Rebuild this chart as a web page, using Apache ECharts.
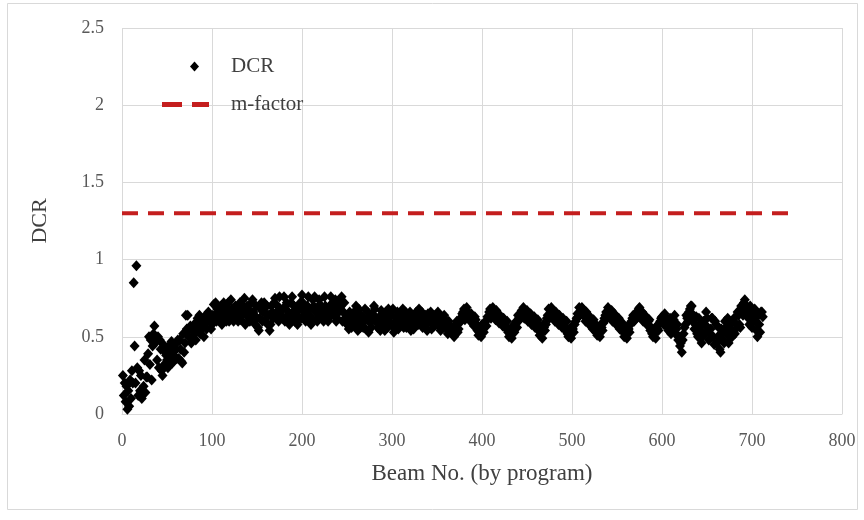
<!DOCTYPE html>
<html>
<head>
<meta charset="utf-8">
<script src="https://cdn.jsdelivr.net/npm/echarts@6/dist/echarts.min.js"></script>
<style>html,body{margin:0;padding:0;background:#fff}#c{width:864px;height:520px}</style>
</head>
<body>
<div id="c"></div>
<script>
const xTicks = [0, 100, 200, 300, 400, 500, 600, 700, 800];
const yTicks = [0, 0.5, 1, 1.5, 2, 2.5];
const mFactor = 1.3;
const mFactorRange = [0, 750];
// [beam number, DCR] - first set
const dcrPointsA = [
[1,0.25],[2,0.12],[3,0.20],[4,0.08],[5,0.18],[6,0.03],[7,0.15],[8,0.05],[9,0.22],[10,0.10],
[11,0.28],[12,0.20],[13,0.85],[14,0.44],[15,0.20],[16,0.96],[17,0.30],[18,0.12],[19,0.28],[20,0.15],
[21,0.25],[22,0.10],[23,0.13],[24,0.18],[25,0.35],[26,0.14],[27,0.24],[28,0.24],[29,0.39],[30,0.50],
[31,0.32],[32,0.48],[33,0.22],[34,0.44],[35,0.52],[36,0.57],[37,0.46],[38,0.48],[39,0.35],[40,0.50],
[41,0.30],[42,0.48],[43,0.42],[44,0.28],[45,0.25],[46,0.45],[47,0.32],[48,0.40],[50,0.35],[52,0.44],
[53,0.43],[54,0.38],[55,0.47],[56,0.33],[58,0.35],[60,0.42],[62,0.48],[63,0.36],[64,0.48],[66,0.34],
[67,0.33],[68,0.52],[70,0.46],[71,0.64],[72,0.55],[73,0.64],[74,0.50],[76,0.57],[78,0.50],[80,0.58],
[82,0.48],[84,0.62],[85,0.55],[86,0.64],[88,0.60],[90,0.56],[92,0.62],[94,0.55],[96,0.66],[97,0.64],
[98,0.60],[100,0.58],[102,0.71],[104,0.72],[106,0.68],[108,0.62],
[110,0.70],[112,0.62],[114,0.66],[116,0.60],[118,0.72],[120,0.64],[122,0.68],[124,0.60],[126,0.70],[128,0.63],
[130,0.66],[132,0.61],[134,0.70],[136,0.75],[138,0.64],[140,0.68],[142,0.60],[144,0.72],[146,0.66],[148,0.58],
[150,0.62],[152,0.54],[154,0.68],[156,0.60],[158,0.72],[160,0.65],[162,0.58],[164,0.54],[166,0.70],[168,0.62],
[170,0.75],[172,0.66],[174,0.60],[176,0.68],[178,0.62],[180,0.76],[182,0.70],[184,0.64],[186,0.58],[188,0.72],
[190,0.66],[192,0.60],[194,0.69],[196,0.63],[198,0.72],[200,0.77],[202,0.66],[204,0.60],[206,0.70],[208,0.64],
[210,0.58],[212,0.74],[214,0.76],[216,0.68],[218,0.62],[220,0.71],[222,0.65],[224,0.60],[226,0.70],[228,0.63],
[230,0.67],[232,0.76],[234,0.72],[236,0.64],[238,0.60],[240,0.70],[242,0.74],[244,0.76],[246,0.66],[248,0.62],
[250,0.58],[252,0.55],[254,0.62],[256,0.58],[258,0.66],[260,0.70],[262,0.54],[264,0.60],[266,0.64],[268,0.56],
[270,0.68],[272,0.62],[274,0.53],[276,0.59],[278,0.65],[280,0.70],[282,0.60],[284,0.56],[286,0.63],[288,0.67],
[290,0.58],[292,0.54],[294,0.62],[296,0.68],[298,0.64],[300,0.57],[302,0.53],[304,0.60],[306,0.66],[308,0.62],
[310,0.58],[312,0.68],[314,0.64],[316,0.56],[318,0.60],[320,0.66],[322,0.62],[324,0.55],[326,0.59],[328,0.64],
[330,0.68],[332,0.60],[334,0.56],[336,0.62],[338,0.58],[340,0.65],[342,0.61],[344,0.55],[346,0.60],[348,0.64],
[350,0.58],[352,0.62],[354,0.54],[356,0.60],[358,0.64],[360,0.57],[362,0.52],[364,0.58],[366,0.55],
[368,0.52],[370,0.56],[372,0.60],[374,0.55],[376,0.62],[378,0.65],[380,0.68],[382,0.64],[384,0.66],[386,0.62],
[388,0.65],[390,0.60],[392,0.63],[394,0.58],
[396,0.51],[398,0.55],[400,0.58],[402,0.53],[404,0.60],[406,0.63],[408,0.66],[410,0.62],[412,0.69],[414,0.65],
[416,0.67],[418,0.62],[420,0.64],[422,0.60],[424,0.62],[426,0.57],[428,0.60],
[430,0.50],[432,0.54],[434,0.57],[436,0.53],[438,0.60],[440,0.64],[442,0.61],[444,0.67],[446,0.69],[448,0.65],
[450,0.67],[452,0.62],[454,0.65],[456,0.60],[458,0.63],[460,0.58],[462,0.61],
[464,0.51],[466,0.55],[468,0.58],[470,0.54],[472,0.62],[474,0.68],[476,0.65],[478,0.67],[480,0.63],[482,0.66],
[484,0.61],[486,0.64],[488,0.59],[490,0.62],[492,0.57],[494,0.60],
[496,0.50],[498,0.54],[500,0.57],[502,0.53],[504,0.60],[506,0.65],[508,0.69],[510,0.66],[512,0.68],[514,0.63],
[516,0.66],[518,0.61],[520,0.63],[522,0.58],[524,0.61],[526,0.56],
[528,0.51],[530,0.55],[532,0.58],[534,0.54],[536,0.62],[538,0.66],[540,0.69],[542,0.65],[544,0.67],[546,0.62],
[548,0.64],[550,0.60],[552,0.62],[554,0.57],[556,0.59],
[558,0.50],[560,0.54],[562,0.57],[564,0.53],[566,0.60],[568,0.64],[570,0.61],[572,0.66],[574,0.68],[576,0.64],
[578,0.66],[580,0.61],[582,0.63],[584,0.58],[586,0.61],[588,0.56],
[590,0.50],[592,0.53],[594,0.57],[596,0.54],[598,0.60],[600,0.63],[602,0.58],[604,0.62],[606,0.56],[608,0.60],
[610,0.52],[612,0.58],[614,0.64],[616,0.55],[618,0.48],[620,0.44],[622,0.40],
[624,0.52],[626,0.58],[628,0.62],[630,0.66],[632,0.70],[634,0.60],[636,0.55],[638,0.63],[640,0.50],[642,0.57],
[644,0.46],[646,0.60],[648,0.52],[650,0.62],[652,0.48],[654,0.55],[656,0.62],[658,0.45],[660,0.58],[662,0.50],
[664,0.42],[666,0.55],[668,0.48],[670,0.60],[672,0.52],[674,0.46],[676,0.58],[678,0.50],[680,0.62],[682,0.55],
[684,0.66],[686,0.58],[688,0.70],[690,0.64],[692,0.74],[694,0.68],[696,0.62],[698,0.70],[700,0.56],[702,0.66],
[704,0.60],[706,0.50],[708,0.58],[709,0.53],[710,0.66],[712,0.63]
];
// [beam number, DCR] - second set
const dcrPointsB = [
[49,0.38],[51,0.30],[57,0.40],[59,0.45],[61,0.36],[65,0.42],[69,0.40],[75,0.55],[77,0.46],[79,0.54],
[81,0.52],[83,0.58],[87,0.52],[89,0.58],[91,0.50],[93,0.64],[95,0.60],[99,0.55],[101,0.64],[103,0.62],
[105,0.60],[107,0.66],
[109,0.66],[111,0.58],[113,0.72],[115,0.64],[117,0.68],[119,0.60],[121,0.74],[123,0.65],[125,0.62],[127,0.67],
[129,0.60],[131,0.72],[133,0.64],[135,0.68],[137,0.58],[139,0.70],[141,0.66],[143,0.62],[145,0.74],[147,0.64],
[149,0.70],[151,0.56],[153,0.62],[155,0.72],[157,0.66],[159,0.60],[161,0.70],[163,0.64],[165,0.58],[167,0.66],
[169,0.72],[171,0.62],[173,0.70],[175,0.76],[177,0.64],[179,0.68],[181,0.60],[183,0.72],[185,0.66],[187,0.62],
[189,0.76],[191,0.70],[193,0.64],[195,0.58],[197,0.68],[199,0.62],[201,0.72],[203,0.70],[205,0.64],[207,0.76],
[209,0.68],[211,0.62],[213,0.70],[215,0.66],[217,0.60],[219,0.74],[221,0.68],[223,0.62],[225,0.76],[227,0.66],
[229,0.60],[231,0.70],[233,0.64],[235,0.68],[237,0.74],[239,0.62],[241,0.66],[243,0.70],[245,0.60],[247,0.72],
[249,0.64],
[251,0.60],[253,0.66],[255,0.56],[257,0.62],[259,0.58],[261,0.64],[263,0.68],[265,0.56],[267,0.62],[269,0.60],
[271,0.55],[273,0.66],[275,0.62],[277,0.56],[279,0.64],[281,0.68],[283,0.62],[285,0.58],[287,0.54],[289,0.64],
[291,0.60],[293,0.66],[295,0.56],[297,0.60],[299,0.64],[301,0.68],[303,0.58],[305,0.62],[307,0.55],[309,0.64],
[311,0.60],[313,0.56],[315,0.66],[317,0.62],[319,0.58],[321,0.54],[323,0.64],[325,0.60],[327,0.66],[329,0.58],
[331,0.62],[333,0.66],[335,0.58],[337,0.64],[339,0.54],[341,0.60],[343,0.66],[345,0.62],[347,0.57],[349,0.62],
[351,0.66],[353,0.58],[355,0.63],[357,0.56],[359,0.61],[361,0.55],[363,0.60],[365,0.53],
[367,0.54],[369,0.50],[371,0.58],[373,0.53],[375,0.59],[377,0.61],[379,0.66],[381,0.61],[383,0.69],[385,0.64],
[387,0.60],[389,0.63],[391,0.57],[393,0.61],[395,0.54],
[397,0.53],[399,0.50],[401,0.56],[403,0.59],[405,0.57],[407,0.62],[409,0.68],[411,0.64],[413,0.66],[415,0.61],
[417,0.64],[419,0.59],[421,0.62],[423,0.57],[425,0.60],[427,0.55],[429,0.53],
[431,0.52],[433,0.49],[435,0.55],[437,0.58],[439,0.56],[441,0.62],[443,0.64],[445,0.66],[447,0.62],[449,0.64],
[451,0.60],[453,0.63],[455,0.58],[457,0.61],[459,0.56],[461,0.59],[463,0.54],
[465,0.53],[467,0.49],[469,0.56],[471,0.58],[473,0.64],[475,0.62],[477,0.69],[479,0.64],[481,0.60],[483,0.64],
[485,0.58],[487,0.61],[489,0.56],[491,0.59],[493,0.54],[495,0.52],
[497,0.53],[499,0.49],[501,0.55],[503,0.58],[505,0.62],[507,0.63],[509,0.64],[511,0.69],[513,0.65],[515,0.60],
[517,0.64],[519,0.58],[521,0.61],[523,0.55],[525,0.59],[527,0.53],
[529,0.53],[531,0.50],[533,0.56],[535,0.59],[537,0.64],[539,0.62],[541,0.66],[543,0.63],[545,0.60],[547,0.65],
[549,0.58],[551,0.61],[553,0.55],[555,0.58],[557,0.53],
[559,0.52],[561,0.49],[563,0.55],[565,0.58],[567,0.62],[569,0.60],[571,0.64],[573,0.63],[575,0.69],[577,0.62],
[579,0.60],[581,0.64],[583,0.58],[585,0.60],[587,0.54],[589,0.52],
[591,0.52],[593,0.49],[595,0.55],[597,0.58],[599,0.62],[601,0.60],[603,0.65],[605,0.60],[607,0.54],[609,0.62],
[611,0.56],[613,0.61],[615,0.52],[617,0.58],[619,0.50],[621,0.46],
[623,0.48],[625,0.56],[627,0.64],[629,0.60],[631,0.68],[633,0.70],[635,0.64],[637,0.58],[639,0.52],[641,0.62],
[643,0.54],[645,0.50],[647,0.58],[649,0.66],[651,0.56],[653,0.52],[655,0.62],[657,0.50],[659,0.60],[661,0.46],
[663,0.56],[665,0.40],[667,0.52],[669,0.46],[671,0.56],[673,0.62],[675,0.50],[677,0.54],[679,0.60],[681,0.52],
[683,0.58],[685,0.64],[687,0.56],[689,0.66],[691,0.72],[693,0.70],[695,0.64],[697,0.58],[699,0.66],[701,0.62],
[703,0.68],[705,0.54],[707,0.64],[711,0.66]
];
const dcrPoints = dcrPointsA.concat(dcrPointsB);

const chart = echarts.init(document.getElementById('c'), null, {renderer: 'canvas'});
const serif = '"Liberation Serif", "Times New Roman", serif';
const red = '#c41e1e';
chart.setOption({
  animation: false,
  backgroundColor: '#ffffff',
  graphic: [{
    type: 'rect', shape: {x: 7.5, y: 3.5, width: 850, height: 506},
    style: {fill: 'none', stroke: '#d9d9d9', lineWidth: 1}, z: -10, silent: true
  }],
  grid: {left: 122, right: 22, top: 28, bottom: 106},
  legend: [{
    data: [{name: 'DCR', icon: 'diamond', itemStyle: {color: '#000'}}],
    orient: 'vertical', left: 185, top: 51,
    itemWidth: 9, itemHeight: 10,
    textStyle: {fontFamily: serif, fontSize: 21, color: '#404040', padding: [0, 0, 0, 27]}
  }, {
    data: [{name: 'm-factor', icon: 'path://M0,0H20V5H0ZM30,0H47V5H30Z', itemStyle: {color: red}}],
    orient: 'vertical', left: 157, top: 89,
    itemWidth: 47, itemHeight: 5,
    textStyle: {fontFamily: serif, fontSize: 21, color: '#404040', padding: [0, 0, 0, 17]}
  }],
  xAxis: {
    type: 'value', min: xTicks[0], max: xTicks[xTicks.length - 1], interval: 100,
    name: 'Beam No. (by program)', nameLocation: 'middle', nameGap: 48,
    nameTextStyle: {fontFamily: serif, fontSize: 23, color: '#404040'},
    axisLine: {show: true, lineStyle: {color: '#d9d9d9'}},
    axisTick: {show: false},
    axisLabel: {fontFamily: serif, fontSize: 18, color: '#595959', margin: 18},
    splitLine: {show: true, lineStyle: {color: '#d9d9d9'}}
  },
  yAxis: {
    type: 'value', min: yTicks[0], max: yTicks[yTicks.length - 1], interval: 0.5,
    name: 'DCR', nameLocation: 'middle', nameGap: 71,
    nameTextStyle: {fontFamily: serif, fontSize: 22, color: '#404040'},
    axisLine: {show: false}, axisTick: {show: false},
    axisLabel: {fontFamily: serif, fontSize: 18, color: '#595959', margin: 18},
    splitLine: {show: true, lineStyle: {color: '#d9d9d9'}}
  },
  series: [{
    name: 'DCR', type: 'scatter', data: dcrPoints,
    symbol: 'diamond', symbolSize: [10, 11],
    itemStyle: {color: '#000000', opacity: 1}, z: 3
  }, {
    name: 'm-factor', type: 'line',
    data: [[mFactorRange[0], mFactor], [mFactorRange[1], mFactor]],
    symbol: 'none', showSymbol: false,
    lineStyle: {color: red, width: 4, type: [16, 10]},
    itemStyle: {color: red}, z: 2
  }]
});
</script>
</body>
</html>
